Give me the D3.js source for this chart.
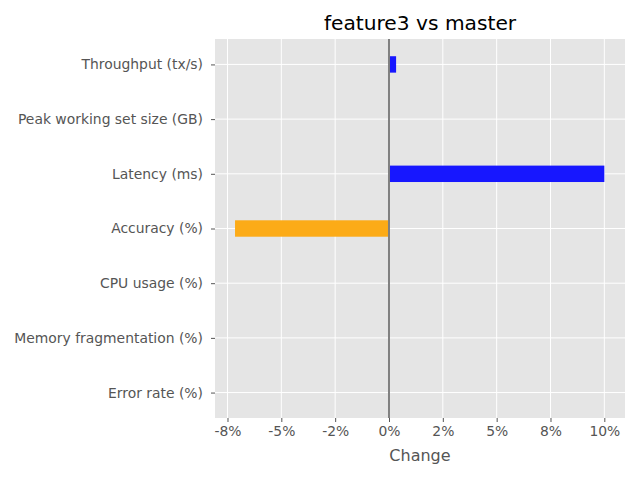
<!DOCTYPE html>
<html>
<head>
<meta charset="utf-8">
<script src="https://cdn.jsdelivr.net/npm/d3@7"></script>
<style>
  body { margin: 0; background: #fff; }
  text { font-family: "DejaVu Sans", sans-serif; }
</style>
</head>
<body>
<svg id="chart" width="640" height="480"></svg>
<script>
// metrics, top to bottom
const metrics = [
    "Throughput (tx/s)",
    "Peak working set size (GB)",
    "Latency (ms)",
    "Accuracy (%)",
    "CPU usage (%)",
    "Memory fragmentation (%)",
    "Error rate (%)"
];
// percent change vs master (0 = no bar)
const changes = [0.33, 0, 10.0, -7.15, 0, 0, 0];
const barColors = ["#1717ff", "#1717ff", "#1717ff", "#fcab17", "#1717ff", "#1717ff", "#1717ff"];
const xTicks = [-7.5, -5, -2.5, 0, 2.5, 5, 7.5, 10];
const xTickLabels = ["-8%", "-5%", "-2%", "0%", "2%", "5%", "8%", "10%"];

const svg = d3.select("#chart");
const margin = {left: 215, right: 15, top: 39, bottom: 62};
const w = 640 - margin.left - margin.right;
const h = 480 - margin.top - margin.bottom;

const x = d3.scaleLinear().domain([-8.08, 10.96]).range([0, w]);
const y = d3.scaleLinear().domain([6.465, -0.465]).range([h, 0]);
const barH = Math.abs(y(0.3) - y(0));

const g = svg.append("g")
    .attr("transform", `translate(${margin.left},${margin.top})`);

// background
g.append("rect")
    .attr("width", w)
    .attr("height", h)
    .attr("fill", "#e5e5e5");

// grid lines
g.selectAll(".vgrid")
    .data(xTicks)
    .join("line")
    .attr("x1", d => x(d)).attr("x2", d => x(d))
    .attr("y1", 0).attr("y2", h)
    .attr("stroke", "#fff")
    .attr("stroke-width", 1);

g.selectAll(".hgrid")
    .data(metrics)
    .join("line")
    .attr("x1", 0).attr("x2", w)
    .attr("y1", (d, i) => y(i)).attr("y2", (d, i) => y(i))
    .attr("stroke", "#fff")
    .attr("stroke-width", 1);

// bars
g.selectAll(".bar")
    .data(changes)
    .join("rect")
    .attr("x", d => x(Math.min(0, d)))
    .attr("width", d => Math.abs(x(d) - x(0)))
    .attr("y", (d, i) => y(i) - barH / 2)
    .attr("height", barH)
    .attr("fill", (d, i) => barColors[i]);

// zero line
g.append("line")
    .attr("x1", x(0)).attr("x2", x(0))
    .attr("y1", 0).attr("y2", h)
    .attr("stroke", "#808080")
    .attr("stroke-width", 2);

// x axis
const xAxis = g.append("g")
    .attr("transform", `translate(0,${h})`)
    .call(d3.axisBottom(x).tickValues(xTicks)
        .tickFormat((d, i) => xTickLabels[i])
        .tickSize(4).tickPadding(4));

// y axis
const yAxis = g.append("g")
    .call(d3.axisLeft(y).tickValues(d3.range(metrics.length))
        .tickFormat(i => metrics[i])
        .tickSize(4).tickPadding(8));

[xAxis, yAxis].forEach(a => {
    a.select(".domain").remove();
    a.selectAll(".tick line").attr("stroke", "#555").attr("stroke-width", 1);
    a.selectAll(".tick text")
        .attr("fill", "#555")
        .style("font-size", "13.9px")
        .style("font-family", "DejaVu Sans, sans-serif");
});

// title
svg.append("text")
    .attr("x", margin.left + w / 2)
    .attr("y", 30)
    .attr("text-anchor", "middle")
    .style("font-size", "20.2px")
    .attr("fill", "#000")
    .text("feature3 vs master");

// x label
svg.append("text")
    .attr("x", margin.left + w / 2)
    .attr("y", 461)
    .attr("text-anchor", "middle")
    .style("font-size", "16px")
    .attr("fill", "#555")
    .text("Change");
</script>
</body>
</html>
